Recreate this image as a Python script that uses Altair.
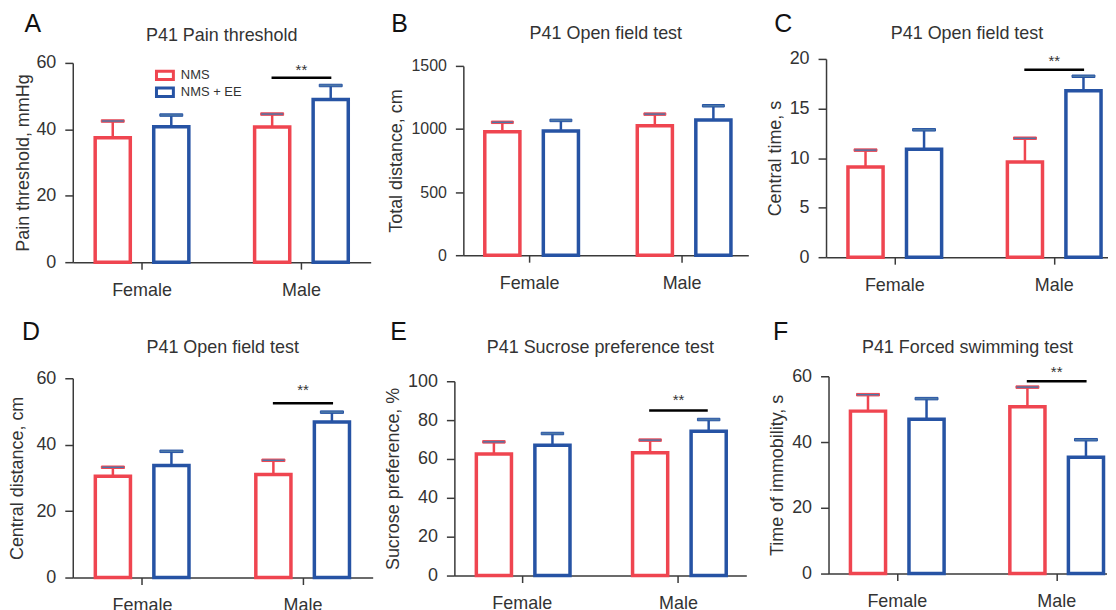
import altair as alt
import pandas as pd

FONT = "Liberation Sans"
TXT = "#333333"

categories = ["Female", "Male"]
groups = ["NMS", "NMS + EE"]
colors = ["#EF4550", "#2653A4"]

letters = ["A", "B", "C", "D", "E", "F"]
titles = ["P41 Pain threshold", "P41 Open field test", "P41 Open field test",
          "P41 Open field test", "P41 Sucrose preference test", "P41 Forced swimming test"]
y_titles = ["Pain threshold, mmHg", "Total distance, cm", "Central time, s",
            "Central distance, cm", "Sucrose preference, %", "Time of immobility, s"]
y_max = [60, 1500, 20, 60, 100, 60]
y_ticks = [[0, 20, 40, 60], [0, 500, 1000, 1500], [0, 5, 10, 15, 20],
           [0, 20, 40, 60], [0, 20, 40, 60, 80, 100], [0, 20, 40, 60]]

# order: Female-NMS, Female-NMS+EE, Male-NMS, Male-NMS+EE
mean_A = [37.5, 40.8, 40.7, 49.0]
sem_A = [5.0, 3.5, 3.9, 4.2]
mean_B = [979, 984, 1026, 1071]
sem_B = [74, 84, 92, 113]
mean_C = [9.1, 10.9, 9.6, 16.8]
sem_C = [1.7, 1.95, 2.4, 1.45]
mean_D = [30.5, 33.7, 31.0, 46.8]
sem_D = [2.7, 4.3, 4.3, 3.0]
mean_E = [62.5, 67.1, 63.2, 74.3]
sem_E = [6.3, 6.0, 6.5, 6.0]
mean_F = [49.4, 46.9, 50.7, 35.4]
sem_F = [5.0, 6.3, 6.0, 5.3]

means = [mean_A, mean_B, mean_C, mean_D, mean_E, mean_F]
sems = [sem_A, sem_B, sem_C, sem_D, sem_E, sem_F]

# significance bar (Male: NMS vs NMS + EE); None = no marker
sig_y = [55.5, None, 18.9, 52.5, 85.0, 58.5]
sig_label = "**"

# layout (style): plot width, panel height, plot top, plot height
widths = [299, 286, 283, 301, 293, 279]
band_outer = [0.1406, 0.1406, 0.090625, 0.1406, 0.1406, 0.078125]
band_align = [0.5, 0.5, 0.759, 0.5, 0.5, 0.88]
panel_h = [204, 204, 204, 202, 202, 202]
tops = [4, 7, 0, 2, 5, 0]
heights = [200, 190, 199, 200, 195, 198]
letter_pos = [(-40, -27), (-64, -27), (-43, -27), (-42, -36), (-56, -36), (-48, -36)]
title_y = [-18, -20, -20, -23, -23, -23]
ylabel_size = [18, 16, 18, 18, 18, 18]
ytitle_pad = [3, 5, 5, 9.5, 5, 5]
star_dy = [-3, -4, -4, -8, -5, -4]


def panel(i):
    W = widths[i]
    H = panel_h[i]
    top, h = tops[i], heights[i]
    step = W / (1.5875 + 2 * band_outer[i])
    df = pd.DataFrame({
        "category": [c for c in categories for _ in groups],
        "group": groups * 2,
        "mean": means[i],
        "upper": [m + s for m, s in zip(means[i], sems[i])],
    })
    xaxis = alt.Axis(title=None, labelAngle=0, offset=-(H - top - h), tickSize=7,
                     labelPadding=12, labelFontSize=18)
    x = alt.X("category:N", scale=alt.Scale(domain=categories, paddingInner=0.4125,
                                             paddingOuter=band_outer[i],
                                             align=band_align[i]), axis=xaxis)
    xo = alt.XOffset("group:N", scale=alt.Scale(domain=groups, paddingInner=0.40,
                                                 paddingOuter=0))
    yscale = alt.Scale(domain=[0, y_max[i]], range=[top + h, top], nice=False, zero=True)
    yaxis = alt.Axis(values=y_ticks[i], title=y_titles[i], tickSize=8, labelPadding=9,
                     labelFontSize=ylabel_size[i], titlePadding=ytitle_pad[i], format="d")
    if i == 0:
        leg = alt.Legend(title=None, orient="none", legendX=86, legendY=10, padding=0,
                         symbolType="M-2,-1H2V1H-2Z", symbolSize=72, symbolStrokeWidth=3,
                         symbolFillColor="white", labelFontSize=13, labelFont=FONT,
                         labelColor=TXT, labelOffset=9.5, rowPadding=-10)
    else:
        leg = None
    stroke = alt.Stroke("group:N", scale=alt.Scale(domain=groups, range=colors), legend=leg)

    base = alt.Chart(df)
    bars = base.mark_bar(fill="white", strokeWidth=3.5).encode(
        x=x, xOffset=xo, y=alt.Y("mean:Q", scale=yscale, axis=yaxis), stroke=stroke)
    err = base.mark_rule(strokeWidth=2.5).encode(
        x=x, xOffset=xo, y=alt.Y("mean:Q", scale=yscale), y2="upper:Q", stroke=stroke)
    caps = base.mark_tick(orient="horizontal", thickness=2.5, size=23 * step / 160,
                          opacity=1).encode(
        x=x, xOffset=xo, y=alt.Y("upper:Q", scale=yscale), stroke=stroke)
    layers = [bars, err, caps]

    if sig_y[i] is not None:
        sdf = pd.DataFrame({"category": ["Male"], "y": [sig_y[i]], "label": [sig_label]})
        sbase = alt.Chart(sdf)
        line = sbase.mark_tick(orient="horizontal", thickness=2.5, size=60 * step / 160,
                               color="black", opacity=1).encode(
            x=x, y=alt.Y("y:Q", scale=yscale))
        star = sbase.mark_text(fontSize=15, font=FONT, color=TXT, baseline="alphabetic",
                               dy=star_dy[i]).encode(
            x=x, y=alt.Y("y:Q", scale=yscale), text="label:N")
        layers += [line, star]

    ldf = pd.DataFrame({"letter": [letters[i]], "title": [titles[i]]})
    lx, ly = letter_pos[i]
    letter = alt.Chart(ldf).mark_text(fontSize=25, font=FONT, color="#111111",
                                      align="center", baseline="alphabetic").encode(
        x=alt.value(lx), y=alt.value(ly), text="letter:N")
    title = alt.Chart(ldf).mark_text(fontSize=18, font=FONT, color=TXT,
                                     align="center", baseline="alphabetic").encode(
        x=alt.value(W / 2), y=alt.value(title_y[i]), text="title:N")
    layers += [letter, title]

    return alt.layer(*layers).properties(width=W, height=H)


p = [panel(i) for i in range(6)]

top_ab = alt.hconcat(p[0], p[1], spacing=17).resolve_scale(stroke="independent")
top_row = alt.hconcat(top_ab, p[2], spacing=17).resolve_scale(stroke="independent")
bottom_de = alt.hconcat(p[3], p[4], spacing=11).resolve_scale(stroke="independent")
bottom_row = alt.hconcat(bottom_de, p[5], spacing=21.5).resolve_scale(stroke="independent")

chart = alt.vconcat(top_row, bottom_row, spacing=21.5).resolve_scale(
    stroke="independent"
).properties(
    padding={"left": 0, "top": 3, "right": 0, "bottom": 0}
).configure(
    font=FONT
).configure_view(
    stroke=None
).configure_axis(
    grid=False,
    labelFont=FONT, titleFont=FONT, labelColor=TXT, titleColor=TXT,
    titleFontSize=18, titleFontWeight="normal",
    domainColor="#3a3a3a", domainWidth=1.5, tickColor="#3a3a3a", tickWidth=1.5,
)

chart.save("out.html", embed_options={"renderer": "svg", "actions": False})
